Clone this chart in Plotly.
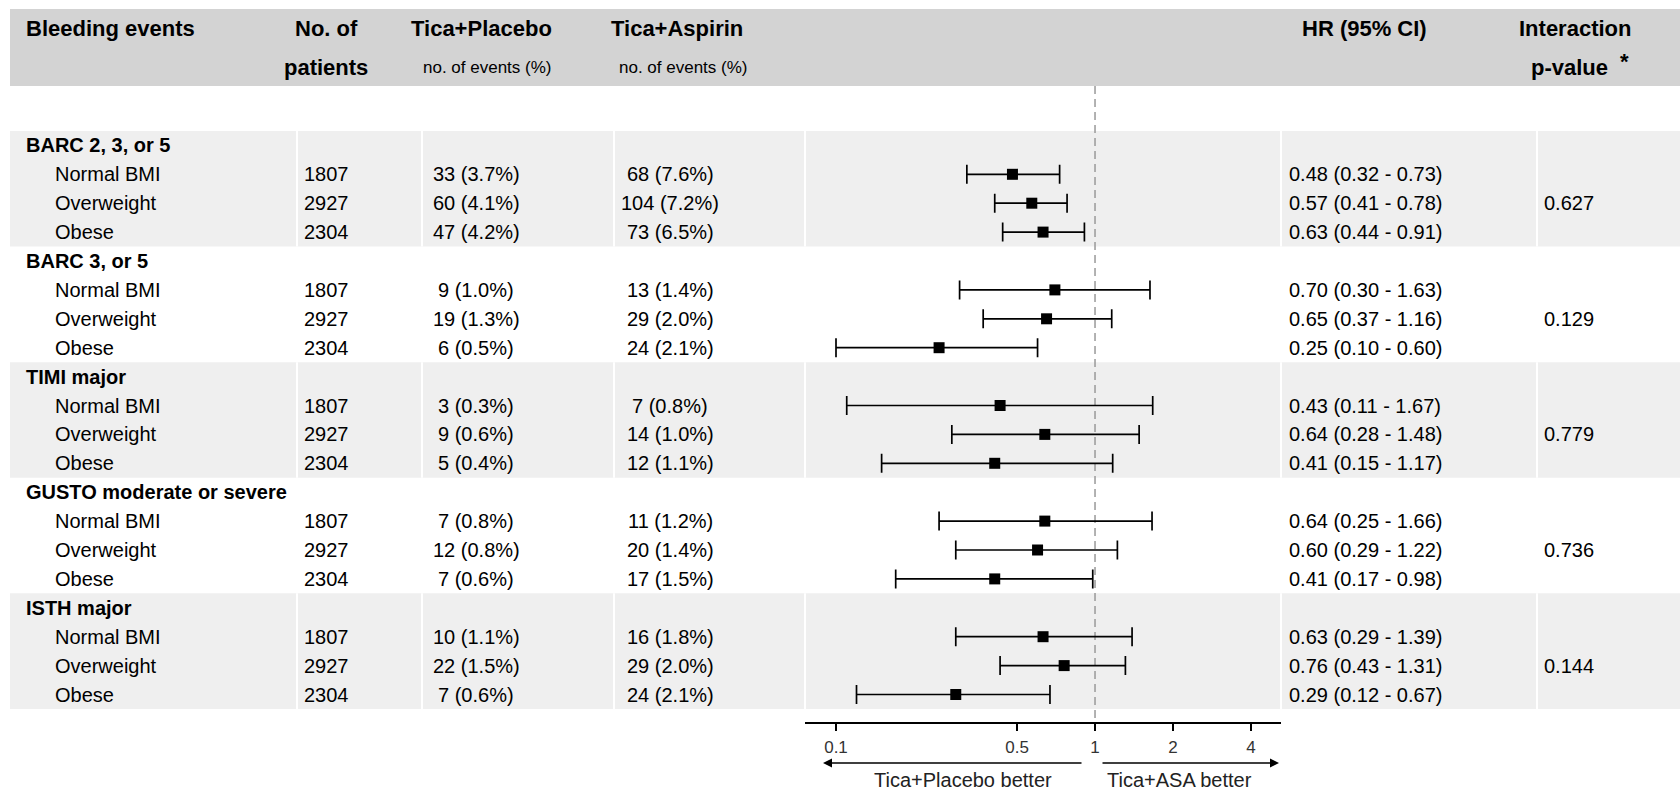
import plotly.graph_objects as go

# ---------------- data ----------------
groups = ["BARC 2, 3, or 5", "BARC 3, or 5", "TIMI major", "GUSTO moderate or severe", "ISTH major"]
subgroups = ["Normal BMI", "Overweight", "Obese"]
n_patients = [1807, 2927, 2304]
placebo_events = [[33, 60, 47], [9, 19, 6], [3, 9, 5], [7, 12, 7], [10, 22, 7]]
placebo_pct = [[3.7, 4.1, 4.2], [1.0, 1.3, 0.5], [0.3, 0.6, 0.4], [0.8, 0.8, 0.6], [1.1, 1.5, 0.6]]
aspirin_events = [[68, 104, 73], [13, 29, 24], [7, 14, 12], [11, 20, 17], [16, 29, 24]]
aspirin_pct = [[7.6, 7.2, 6.5], [1.4, 2.0, 2.1], [0.8, 1.0, 1.1], [1.2, 1.4, 1.5], [1.8, 2.0, 2.1]]
hr = [[0.48, 0.57, 0.63], [0.70, 0.65, 0.25], [0.43, 0.64, 0.41], [0.64, 0.60, 0.41], [0.63, 0.76, 0.29]]
hr_lo = [[0.32, 0.41, 0.44], [0.30, 0.37, 0.10], [0.11, 0.28, 0.15], [0.25, 0.29, 0.17], [0.29, 0.43, 0.12]]
hr_hi = [[0.73, 0.78, 0.91], [1.63, 1.16, 0.60], [1.67, 1.48, 1.17], [1.66, 1.22, 0.98], [1.39, 1.31, 0.67]]
p_interaction = ["0.627", "0.129", "0.779", "0.736", "0.144"]
tick_vals = [0.1, 0.5, 1, 2, 4]
tick_text = ["0.1", "0.5", "1", "2", "4"]

# ---------------- layout helpers ----------------
W, H = 1680, 791
ROW0, PITCH = 145.4, 28.9
FONT = "Liberation Sans, Arial, Helvetica, sans-serif"


def prow(p):
    return (p - ROW0) / PITCH


def px(x):
    return x / W


fig = go.Figure()
ann = []
shapes = []


def text(x, y, s, size=20, bold=False, anchor="center", color="#000"):
    ann.append(dict(
        x=px(x), y=y, xref="paper", yref="y", text=(f"<b>{s}</b>" if bold else s),
        showarrow=False, xanchor=anchor, yanchor="middle",
        font=dict(family=FONT, size=size, color=color)))


# header band
shapes.append(dict(type="rect", xref="paper", yref="y", x0=px(10), x1=1,
                   y0=prow(9), y1=prow(86), fillcolor="#d3d3d3", line_width=0, layer="below"))

# group bands (alternating) + white column separators
seps = [297, 422, 614, 805, 1281, 1537]
for g in range(len(groups)):
    if g % 2 == 0:
        y0, y1 = 4 * g - 0.5, 4 * g + 3.5
        shapes.append(dict(type="rect", xref="paper", yref="y", x0=px(10), x1=1,
                           y0=y0, y1=y1, fillcolor="#efefef", line_width=0, layer="below"))
        for s in seps:
            shapes.append(dict(type="line", xref="paper", yref="y", x0=px(s), x1=px(s),
                               y0=y0, y1=y1, line=dict(color="#ffffff", width=2), layer="below"))

# header texts
L1, L2 = prow(28.5), prow(67)
text(24, L1, "Bleeding events", 22, True, "left")
text(326, L1, "No. of", 22, True)
text(326, L2, "patients", 22, True)
text(482, L1, "Tica+Placebo", 22, True)
text(487, L2, "no. of events (%)", 17)
text(677, L1, "Tica+Aspirin", 22, True)
text(683, L2, "no. of events (%)", 17)
text(1364, L1, "HR (95% CI)", 22, True)
text(1575, L1, "Interaction", 22, True)
text(1569, L2, "p-value", 22, True)
text(1624, prow(61), "*", 22, True)

# table rows
xs, ys, ep, em = [], [], [], []
for g, name in enumerate(groups):
    base = 4 * g
    text(24, base, name, 20, True, "left")
    for k, sub in enumerate(subgroups):
        r = base + 1 + k
        text(53, r, sub, 20, False, "left")
        text(326, r, str(n_patients[k]), 20)
        text(476, r, f"{placebo_events[g][k]} ({placebo_pct[g][k]:.1f}%)", 20)
        text(670, r, f"{aspirin_events[g][k]} ({aspirin_pct[g][k]:.1f}%)", 20)
        text(1365, r, f"{hr[g][k]:.2f} ({hr_lo[g][k]:.2f} - {hr_hi[g][k]:.2f})", 20)
        xs.append(hr[g][k])
        ys.append(r)
        ep.append(hr_hi[g][k] - hr[g][k])
        em.append(hr[g][k] - hr_lo[g][k])
    text(1569, base + 2, p_interaction[g], 20)

# reference line at HR = 1
fig.add_trace(go.Scatter(x=[1, 1], y=[prow(86), prow(723)], mode="lines",
                         line=dict(color="#999999", width=1.5, dash="8px,5px"),
                         hoverinfo="skip", showlegend=False))

# forest points with CI
fig.add_trace(go.Scatter(
    x=xs, y=ys, mode="markers",
    marker=dict(symbol="square", size=11, color="#000000"),
    error_x=dict(type="data", symmetric=False, array=ep, arrayminus=em,
                 color="#000000", thickness=1.7, width=9.5),
    showlegend=False))

# direction arrows
ya = prow(763)
ann.append(dict(x=px(823), y=ya, xref="paper", yref="y", ax=1083 - 823, ay=0,
                axref="pixel", ayref="pixel", text="", showarrow=True,
                arrowhead=2, arrowsize=1.2, arrowwidth=1.5, arrowcolor="#000"))
ann.append(dict(x=px(1279), y=ya, xref="paper", yref="y", ax=1101 - 1279, ay=0,
                axref="pixel", ayref="pixel", text="", showarrow=True,
                arrowhead=2, arrowsize=1.2, arrowwidth=1.5, arrowcolor="#000"))
text(963, prow(780), "Tica+Placebo better", 20, False, "center", "#222")
text(1179, prow(780), "Tica+ASA better", 20, False, "center", "#222")

fig.update_layout(
    width=W, height=H, margin=dict(l=0, r=0, t=0, b=0),
    paper_bgcolor="#ffffff", plot_bgcolor="rgba(0,0,0,0)",
    showlegend=False, annotations=ann, shapes=shapes,
    xaxis=dict(type="log", domain=[px(805), px(1281)], range=[-1.1197, 0.718],
               anchor="free", position=1 - 723 / H,
               showline=True, linecolor="#000", linewidth=1.5,
               ticks="outside", ticklen=7, tickwidth=1.5, tickcolor="#000",
               tickvals=tick_vals, ticktext=tick_text, ticklabelstandoff=2,
               tickfont=dict(family=FONT, size=17, color="#333"),
               showgrid=False, zeroline=False, fixedrange=True),
    yaxis=dict(range=[prow(H), prow(0)], domain=[0, 1], visible=False,
               showgrid=False, zeroline=False, anchor="free", position=0, fixedrange=True),
)

fig.write_html("out.html", config={"displayModeBar": False},
               post_script="document.body.style.margin='0px';document.body.style.padding='0px';"
                           "document.body.style.overflow='hidden';")
